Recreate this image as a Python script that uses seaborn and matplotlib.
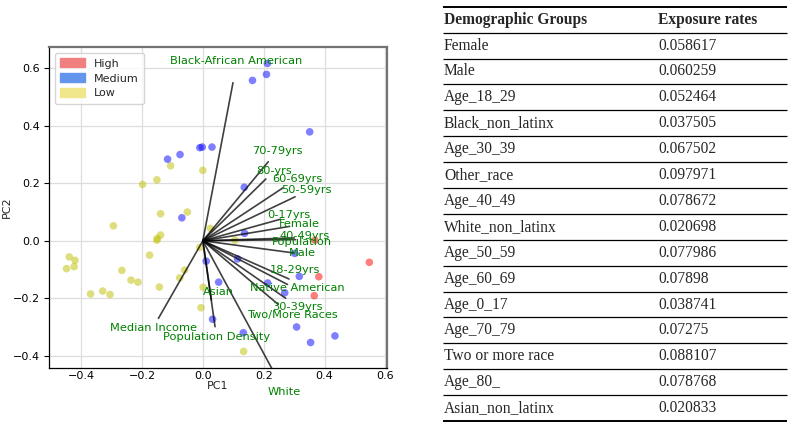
import matplotlib
matplotlib.use("Agg")
import matplotlib.pyplot as plt
import matplotlib.patches as mpatches
import pandas as pd
import seaborn as sns

# PCA scores per county group
low_pc1 = [-0.106, 0.000, -0.151, -0.198, -0.139, -0.051, -0.294, 0.025, -0.139, -0.150,
           -0.151, 0.105, -0.010, -0.439, -0.420, -0.175, -0.448, -0.423, -0.266, -0.060,
           -0.076, -0.236, -0.213, -0.143, 0.001, -0.329, -0.369, -0.305, -0.006, 0.134]
low_pc2 = [0.261, 0.245, 0.212, 0.196, 0.094, 0.100, 0.052, 0.043, 0.020, 0.008,
           0.002, 0.002, -0.023, -0.056, -0.068, -0.050, -0.097, -0.090, -0.103, -0.102,
           -0.129, -0.137, -0.144, -0.161, -0.162, -0.175, -0.185, -0.187, -0.233, -0.385]
medium_pc1 = [0.212, 0.209, 0.163, 0.351, -0.010, -0.002, 0.030, -0.075, -0.116, 0.136,
              -0.069, 0.137, 0.011, 0.114, 0.302, 0.052, 0.213, 0.269, 0.317, 0.032,
              0.133, 0.308, 0.354, 0.434]
medium_pc2 = [0.617, 0.579, 0.558, 0.379, 0.324, 0.326, 0.326, 0.300, 0.284, 0.186,
              0.080, 0.026, -0.071, -0.063, -0.044, -0.144, -0.147, -0.181, -0.124, -0.273,
              -0.320, -0.300, -0.354, -0.331]
high_pc1 = [0.368, 0.547, 0.381, 0.366]
high_pc2 = [0.002, -0.075, -0.125, -0.191]

# loading vectors and where their names sit
features = ["Black-African American", "70-79yrs", "80-yrs", "60-69yrs", "50-59yrs",
            "0-17yrs", "Female", "40-49yrs", "Population", "Male", "18-29yrs",
            "Native American", "30-39yrs", "Two/More Races", "Asian", "Median Income",
            "Population Density", "White"]
load_x = [0.099, 0.215, 0.207, 0.263, 0.303, 0.255, 0.285, 0.300, 0.305, 0.296,
          0.283, 0.278, 0.272, 0.247, 0.028, -0.146, 0.040, 0.234]
load_y = [0.550, 0.275, 0.215, 0.184, 0.153, 0.075, 0.050, 0.010, 0.004, -0.042,
          -0.133, -0.152, -0.200, -0.221, -0.206, -0.270, -0.299, -0.459]
label_x = [0.110, 0.245, 0.233, 0.310, 0.340, 0.282, 0.318, 0.334, 0.324, 0.326,
           0.302, 0.310, 0.310, 0.293, 0.050, -0.163, 0.045, 0.269]
label_y = [0.627, 0.314, 0.244, 0.215, 0.176, 0.089, 0.057, 0.017, -0.003, -0.044,
           -0.101, -0.166, -0.229, -0.257, -0.177, -0.304, -0.334, -0.527]

# exposure table
groups = ["Female", "Male", "Age_18_29", "Black_non_latinx", "Age_30_39", "Other_race",
          "Age_40_49", "White_non_latinx", "Age_50_59", "Age_60_69", "Age_0_17",
          "Age_70_79", "Two or more race", "Age_80_", "Asian_non_latinx"]
rates = ["0.058617", "0.060259", "0.052464", "0.037505", "0.067502", "0.097971",
         "0.078672", "0.020698", "0.077986", "0.07898", "0.038741", "0.07275",
         "0.088107", "0.078768", "0.020833"]

scores = pd.DataFrame({
    "PC1": low_pc1 + medium_pc1 + high_pc1,
    "PC2": low_pc2 + medium_pc2 + high_pc2,
    "group": ["Low"] * len(low_pc1) + ["Medium"] * len(medium_pc1) + ["High"] * len(high_pc1),
})

sns.set_style("whitegrid")
plt.rcParams["font.family"] = ["DejaVu Sans"]

fig = plt.figure(figsize=(7.93, 4.28), dpi=100)
ax = fig.add_axes([0.062, 0.140, 0.426, 0.750])

sns.scatterplot(data=scores, x="PC1", y="PC2", hue="group",
                palette={"High": "red", "Medium": "blue", "Low": "y"},
                alpha=0.5, s=30, linewidth=0, legend=False, ax=ax)

for fx, fy, tx, ty, name in zip(load_x, load_y, label_x, label_y, features):
    ax.plot([0, fx], [0, fy], color="k", alpha=0.75, lw=1.2)
    ax.text(tx, ty, name, color="green", ha="center", va="center", fontsize=8.2)

ax.set_xlim(-0.505, 0.605)
ax.set_ylim(-0.443, 0.674)
ax.set_xticks([-0.4, -0.2, 0.0, 0.2, 0.4, 0.6])
ax.set_yticks([-0.4, -0.2, 0.0, 0.2, 0.4, 0.6])
ax.tick_params(labelsize=8, colors="k")
ax.tick_params(axis="x", length=0, pad=2)
ax.tick_params(axis="y", length=3.5, width=0.8, left=True, pad=3)
ax.set_xlabel("PC1", fontsize=8, labelpad=0)
ax.set_ylabel("PC2", fontsize=8, labelpad=1)
ax.grid(color="#dddddd", lw=0.9)
for side in ["left", "bottom"]:
    ax.spines[side].set_color("k")
    ax.spines[side].set_linewidth(0.9)
for side in ["top", "right"]:
    ax.spines[side].set_color("0.45")
    ax.spines[side].set_linewidth(1.6)

handles = [mpatches.Patch(color="lightcoral", label="High"),
           mpatches.Patch(color="cornflowerblue", label="Medium"),
           mpatches.Patch(color="khaki", label="Low")]
ax.legend(handles=handles, loc="upper left", fontsize=8, frameon=True,
          handlelength=2.2, handleheight=0.9, borderpad=0.5, labelspacing=0.4)

# table drawn as text and rules in figure pixel space
tab = fig.add_axes([0, 0, 1, 1])
tab.set_xlim(0, 793)
tab.set_ylim(428, 0)
tab.axis("off")
top, row_h = 6.7, 25.9
x0, x1, col2 = 443, 787, 658
tab.hlines(top, x0, x1, color="k", lw=1.4)
tab.text(x0 + 1, top + row_h / 2, "Demographic Groups", family="Liberation Serif",
         weight="bold", fontsize=11.2, va="center", ha="left")
tab.text(col2, top + row_h / 2, "Exposure rates", family="Liberation Serif",
         weight="bold", fontsize=11.2, va="center", ha="left")
for i, (g, r) in enumerate(zip(groups, rates)):
    y_line = top + row_h * (i + 1)
    tab.hlines(y_line, x0, x1, color="k", lw=0.9)
    yc = y_line + row_h / 2
    tab.text(x0 + 1, yc, g, family="Liberation Serif", fontsize=11.2, va="center", ha="left")
    tab.text(col2, yc, r, family="Liberation Serif", fontsize=11.2, va="center", ha="left")
tab.hlines(top + row_h * (len(groups) + 1), x0, x1, color="k", lw=1.4)

fig.savefig("out.png", dpi=100)
plt.close(fig)
